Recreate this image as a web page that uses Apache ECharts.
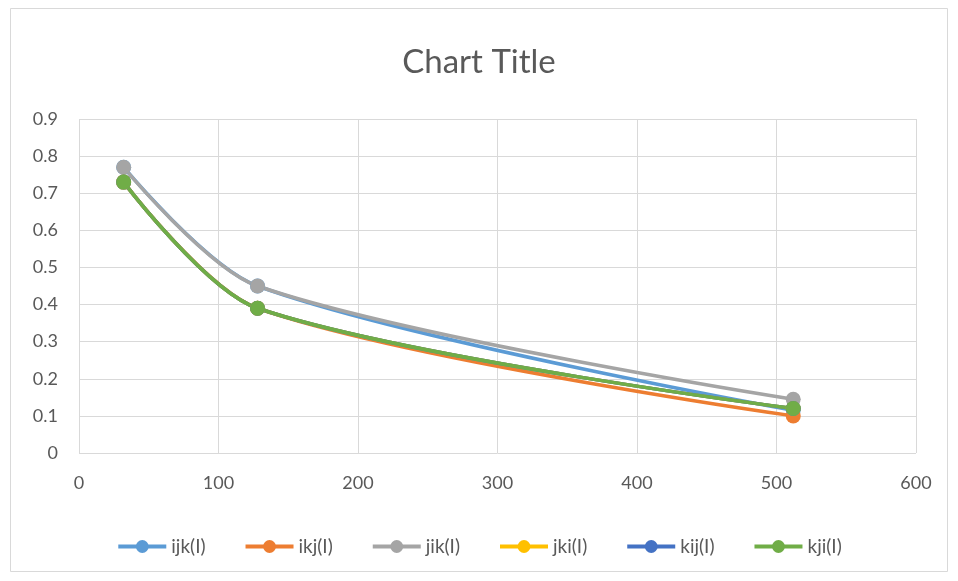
<!DOCTYPE html>
<html><head><meta charset="utf-8">
<script src="https://cdn.jsdelivr.net/npm/echarts@6/dist/echarts.min.js"></script>
<style>html,body{margin:0;padding:0;background:#fff}#c{width:958px;height:581px}</style>
</head><body><div id="c"></div>
<script>
const xValues = [32, 128, 512];
const seriesNames = ['ijk(I)', 'ikj(I)', 'jik(I)', 'jki(I)', 'kij(I)', 'kji(I)'];
const ijk = [0.77, 0.45, 0.115];
const ikj = [0.73, 0.39, 0.10];
const jik = [0.77, 0.45, 0.145];
const jki = [0.73, 0.39, 0.12];
const kij = [0.73, 0.39, 0.12];
const kji = [0.73, 0.39, 0.12];
const colors = ['#5B9BD5', '#ED7D31', '#A5A5A5', '#FFC000', '#4472C4', '#70AD47'];
const allData = [ijk, ikj, jik, jki, kij, kji];
const font = 'Lato, "Liberation Sans", sans-serif';
const chart = echarts.init(document.getElementById('c'));
chart.setOption({
  animation: false,
  backgroundColor: '#fff',
  graphic: [{type: 'rect', shape: {x: 10.5, y: 8.5, width: 937, height: 563}, style: {fill: 'none', stroke: '#d9d9d9', lineWidth: 1}}],
  title: {text: 'Chart Title', left: 'center', top: 41, textStyle: {fontFamily: font, fontSize: 33, fontWeight: 'normal', color: '#595959'}},
  legend: {bottom: 20, left: 'center', itemWidth: 48, itemHeight: 16, itemGap: 38,
    lineStyle: {width: 4},
    textStyle: {fontFamily: font, fontSize: 19, color: '#595959'}, data: seriesNames},
  grid: {left: 79, right: 42, top: 119, bottom: 128},
  xAxis: {type: 'value', min: 0, max: 600, interval: 100,
    axisLine: {show: false}, axisTick: {show: false},
    splitLine: {show: true, lineStyle: {color: '#d9d9d9', width: 1}},
    axisLabel: {fontFamily: font, fontSize: 18, color: '#595959', margin: 21}},
  yAxis: {type: 'value', min: 0, max: 0.9, interval: 0.1,
    axisLine: {show: false}, axisTick: {show: false},
    splitLine: {show: true, lineStyle: {color: '#d9d9d9', width: 1}},
    axisLabel: {fontFamily: font, fontSize: 18, color: '#595959', margin: 21, formatter: v => String(Math.round(v*10)/10)}},
  series: seriesNames.map((n, i) => ({
    name: n, type: 'line', smooth: 0.3,
    data: xValues.map((x, j) => [x, allData[i][j]]),
    symbol: 'circle', symbolSize: 15,
    lineStyle: {width: 3.5, color: colors[i]},
    itemStyle: {color: colors[i]}
  }))
});
</script></body></html>
